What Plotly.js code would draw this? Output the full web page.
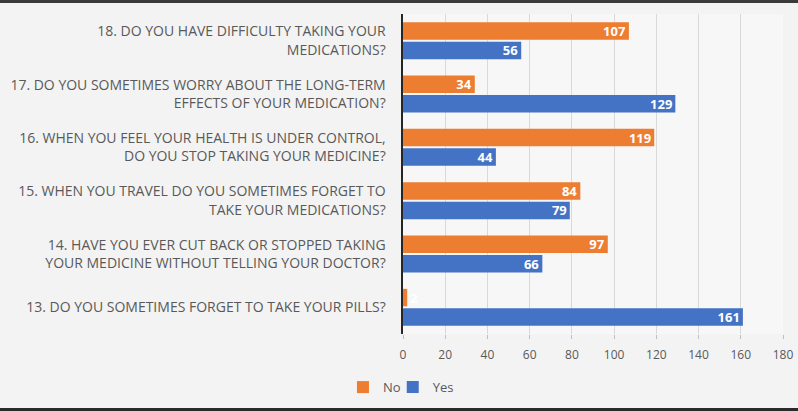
<!DOCTYPE html>
<html>
<head>
<meta charset="utf-8">
<script src="https://cdn.plot.ly/plotly-3.0.1.min.js"></script>
<style>
html,body{margin:0;padding:0;background:#f3f3f3;}
#chart{width:798px;height:405px;border-top:3px solid #3a3a3a;border-bottom:3px solid #2a2a2a;}
</style>
</head>
<body>
<div id="chart"></div>
<script>
// Categories listed bottom to top
const questions = [
  "13. DO YOU SOMETIMES FORGET TO TAKE YOUR PILLS?",
  "14. HAVE YOU EVER CUT BACK OR STOPPED TAKING<br>YOUR MEDICINE WITHOUT TELLING YOUR DOCTOR?",
  "15. WHEN YOU TRAVEL DO YOU SOMETIMES FORGET TO<br>TAKE YOUR MEDICATIONS?",
  "16. WHEN YOU FEEL YOUR HEALTH IS UNDER CONTROL,<br>DO YOU STOP TAKING YOUR MEDICINE?",
  "17. DO YOU SOMETIMES WORRY ABOUT THE LONG-TERM<br>EFFECTS OF YOUR MEDICATION?",
  "18. DO YOU HAVE DIFFICULTY TAKING YOUR<br>MEDICATIONS?"
];
const noValues  = [2, 97, 84, 119, 34, 107];
const yesValues = [161, 66, 79, 44, 129, 56];
const xTicks = [0, 20, 40, 60, 80, 100, 120, 140, 160, 180];

const font = "Open Sans, Liberation Sans, sans-serif";

const traces = [
  {
    type: 'bar', orientation: 'h', name: 'Yes', legend: 'legend2',
    y: questions, x: yesValues,
    text: yesValues.map(String), textposition: 'inside', insidetextanchor: 'end',
    textangle: 0, constraintext: 'none',
    insidetextfont: {family: font, size: 13, color: '#ffffff', weight: 'bold'},
    marker: {color: '#4472C4'}, hoverinfo: 'x'
  },
  {
    type: 'bar', orientation: 'h', name: 'No', legend: 'legend',
    y: questions, x: noValues,
    text: noValues.map(String), textposition: 'auto', insidetextanchor: 'end',
    textangle: 0, constraintext: 'none',
    insidetextfont: {family: font, size: 13, color: '#ffffff', weight: 'bold'},
    outsidetextfont: {family: font, size: 13, color: '#ffffff', weight: 'bold'},
    marker: {color: '#ED7D31'}, hoverinfo: 'x'
  }
];

const legendStyle = {
  orientation: 'h', xanchor: 'left', yanchor: 'middle', y: -0.166,
  font: {family: font, size: 13, color: '#595959'},
  bgcolor: 'rgba(0,0,0,0)'
};

const layout = {
  width: 798, height: 405,
  margin: {l: 403, r: 15, t: 11, b: 74, autoexpand: false},
  paper_bgcolor: '#f3f3f3', plot_bgcolor: '#f7f7f7',
  barmode: 'group', bargap: 0.27, bargroupgap: 0.1,
  font: {family: font, color: '#595959', size: 12},
  xaxis: {
    range: [0, 180], tickvals: xTicks, ticktext: xTicks.map(String),
    showgrid: true, gridcolor: '#d9d9d9', gridwidth: 1,
    zeroline: false, showline: false,
    ticks: 'outside', ticklen: 4, tickcolor: '#bfbfbf', ticklabelstandoff: 6,
    ticklabeloverflow: 'allow',
    tickfont: {family: font, size: 12, color: '#595959'}, fixedrange: true
  },
  yaxis: {
    type: 'category', categoryorder: 'array', categoryarray: questions,
    showline: true, linecolor: '#262626', linewidth: 2.5,
    ticks: '', ticklabelstandoff: 12, showgrid: false, zeroline: false,
    tickfont: {family: font, size: 14, color: '#595959'}, fixedrange: true
  },
  showlegend: true,
  legend: Object.assign({}, legendStyle, {x: -0.158}),
  legend2: Object.assign({}, legendStyle, {x: -0.027})
};

Plotly.newPlot('chart', traces, layout, {displayModeBar: false, staticPlot: true});
</script>
</body>
</html>
